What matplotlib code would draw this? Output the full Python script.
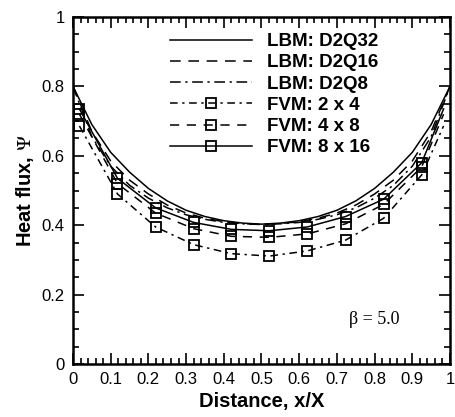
import numpy as np
import matplotlib.pyplot as plt
from matplotlib.ticker import MultipleLocator

# LBM curves
x_lbm = [0.0, 0.05, 0.1, 0.15, 0.2, 0.25, 0.3, 0.35, 0.4, 0.45, 0.5,
         0.55, 0.6, 0.65, 0.7, 0.75, 0.8, 0.85, 0.9, 0.95, 1.0]
d2q32 = [0.80, 0.69, 0.61, 0.553, 0.506, 0.47, 0.443, 0.425, 0.413, 0.406, 0.403,
         0.406, 0.413, 0.425, 0.443, 0.47, 0.506, 0.553, 0.61, 0.69, 0.80]
d2q16 = [0.80, 0.67, 0.585, 0.53, 0.49, 0.458, 0.435, 0.42, 0.41, 0.405, 0.402,
         0.405, 0.41, 0.42, 0.435, 0.458, 0.49, 0.53, 0.585, 0.67, 0.80]
d2q8 = [0.80, 0.655, 0.57, 0.515, 0.478, 0.45, 0.43, 0.417, 0.408, 0.404, 0.402,
        0.404, 0.408, 0.417, 0.43, 0.45, 0.478, 0.515, 0.57, 0.655, 0.80]

# FVM results
x_fvm = [0.017, 0.118, 0.219, 0.32, 0.42, 0.521, 0.622, 0.723, 0.824, 0.925, 0.983]
fvm_2x4 = [0.686, 0.49, 0.395, 0.344, 0.318, 0.311, 0.326, 0.357, 0.42, 0.545, 0.686]
fvm_4x8 = [0.72, 0.52, 0.435, 0.39, 0.368, 0.365, 0.375, 0.404, 0.46, 0.568, 0.72]
fvm_8x16 = [0.735, 0.535, 0.45, 0.408, 0.388, 0.384, 0.395, 0.425, 0.475, 0.58, 0.735]

x_ticks = [0, 0.1, 0.2, 0.3, 0.4, 0.5, 0.6, 0.7, 0.8, 0.9, 1.0]
x_ticklabels = ['0', '0.1', '0.2', '0.3', '0.4', '0.5', '0.6', '0.7', '0.8', '0.9', '1']
y_ticks = [0, 0.2, 0.4, 0.6, 0.8, 1.0]
y_ticklabels = ['0', '0.2', '0.4', '0.6', '0.8', '1']

plt.rcParams['font.family'] = ['Liberation Sans', 'DejaVu Sans']
plt.rcParams['mathtext.fontset'] = 'stix'

fig = plt.figure(figsize=(4.56, 4.17), dpi=100)
ax = fig.add_axes([73/456, 1 - 364/417, 377/456, 347/417])

lw = 1.1
mk = dict(marker='s', markersize=6.5, markerfacecolor='none', markeredgecolor='k',
          markeredgewidth=1.3, markevery=list(range(10)))

ax.plot(x_lbm, d2q32, color='k', lw=lw, ls='-', label='LBM: D2Q32')
ax.plot(x_lbm, d2q16, color='k', lw=lw, ls=(0, (7, 5)), label='LBM: D2Q16')
ax.plot(x_lbm, d2q8, color='k', lw=lw, ls=(0, (7, 3, 1.5, 3)), label='LBM: D2Q8')
ax.plot(x_fvm, fvm_2x4, color='k', lw=lw, ls=(0, (5, 3, 1.5, 3)), label='FVM: 2 x 4', **mk)
ax.plot(x_fvm, fvm_4x8, color='k', lw=lw, ls=(0, (6, 5)), label='FVM: 4 x 8', **mk)
ax.plot(x_fvm, fvm_8x16, color='k', lw=lw, ls='-', label='FVM: 8 x 16', **mk)

ax.set_xlim(0, 1)
ax.set_ylim(0, 1)
ax.set_xticks(x_ticks)
ax.set_xticklabels(x_ticklabels)
ax.set_yticks(y_ticks)
ax.set_yticklabels(y_ticklabels)
ax.xaxis.set_minor_locator(MultipleLocator(0.02))
ax.yaxis.set_minor_locator(MultipleLocator(0.05))
ax.tick_params(which='both', direction='in', top=True, right=True, labelsize=12, width=1.2, pad=6)
ax.tick_params(which='major', length=8)
ax.tick_params(which='minor', length=4)
for s in ax.spines.values():
    s.set_linewidth(1.8)

ax.set_xlabel('Distance, x/X', fontsize=14.5, fontweight='bold', labelpad=3)
ax.set_ylabel('Heat flux, $\\mathrm{\\Psi}$', fontsize=14.5, fontweight='bold', labelpad=4)

ax.text(0.8, 0.127, '\u03b2 = 5.0', fontsize=13, family='Liberation Serif',
        ha='center', va='center')

leg = ax.legend(loc='upper left', bbox_to_anchor=((170 - 73) / 377, (364 - 33) / 347),
                frameon=False, handlelength=4.4, prop=dict(size=13.5, weight='bold'),
                labelspacing=0.22, handletextpad=0.75, borderpad=0, borderaxespad=0)

fig.savefig('out.png', dpi=100)
